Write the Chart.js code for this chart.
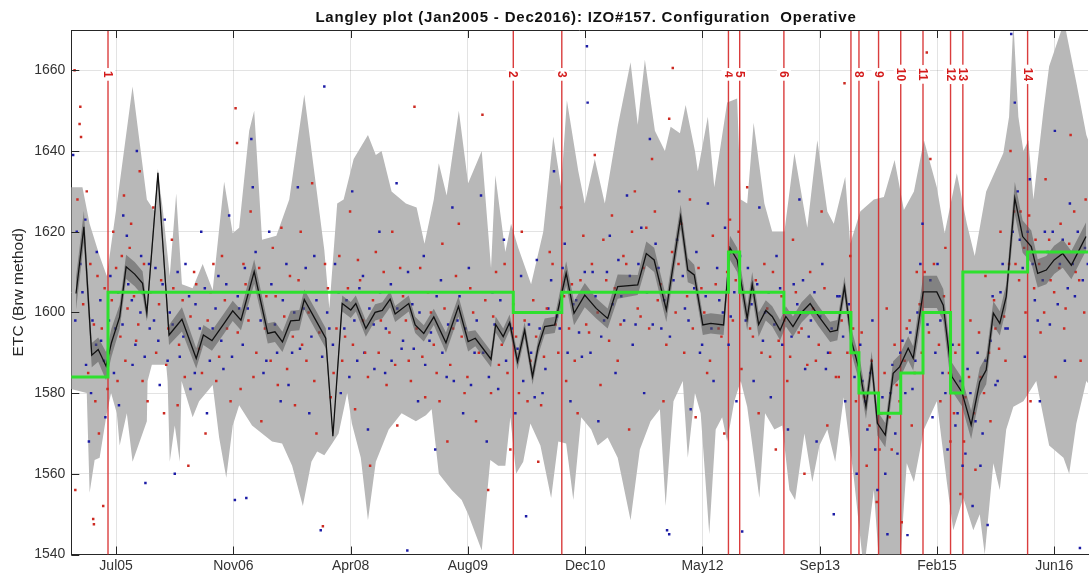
<!DOCTYPE html>
<html>
<head>
<meta charset="utf-8">
<title>Langley plot IZO#157</title>
<script src="https://cdn.jsdelivr.net/npm/chart.js@4.4.1/dist/chart.umd.min.js"></script>
<style>
  html, body { margin: 0; padding: 0; background: #fff; }
  canvas { display: block; }
</style>
</head>
<body>
<canvas id="langley" width="1092" height="574"></canvas>
<script>
// x unit = months since 1 Jan 2005
const FONT = '"Liberation Sans", Arial, sans-serif';

const xTickPos = [6, 22.39, 38.78, 55.17, 71.56, 87.95, 104.34, 120.73, 137.12];
const xTickLabels = ['Jul05', 'Nov06', 'Apr08', 'Aug09', 'Dec10', 'May12', 'Sep13', 'Feb15', 'Jun16'];
const yTicks = [1540, 1560, 1580, 1600, 1620, 1640, 1660];

// calibration events (red lines)
const eventM = [4.87, 61.51, 68.29, 91.58, 93.15, 99.33, 108.70, 109.82, 112.56, 115.66, 118.77, 122.62, 124.34, 133.39];
const eventLabels = ['1', '2', '3', '4', '5', '6', '', '8', '9', '10', '11', '12', '13', '14'];
const labelLevel = 1659;

// operative ETC constant (green steps)
const stepM = [-0.3, 4.87, 61.51, 68.29, 91.58, 93.15, 99.33, 108.70, 109.82, 112.56, 115.66, 118.77, 122.62, 124.34, 133.39, 142];
const stepV = [1584, 1605, 1600, 1605, 1615, 1605, 1600, 1590, 1580, 1575, 1585, 1600, 1580, 1610, 1615, 1615];

// monthly mean ETC (black) and its error
const meanM = [0.4,1.5,2.6,3.5,4.6,5.35,6.5,7.4,8.6,9.7,
  10.3,11.85,13.4,15.2,17.2,18.2,19.4,21.1,22.3,23.45,
  25.3,27.2,28.2,29.25,30.4,31.6,32.3,33.9,35.3,36.3,
  37.6,38.8,39.5,40.9,42.2,43.2,44.3,45.0,46.9,47.8,
  49.0,50.4,52.1,53.85,55.2,56.2,58.4,59.05,60.1,61.0,
  62.1,63.1,64.2,65.0,65.9,67.3,68.9,70.0,71.5,73.1,
  74.7,76.1,78.9,80.1,81.2,82.9,84.9,85.9,86.8,88.0,
  89.1,90.9,91.8,92.8,93.5,94.2,94.9,95.8,96.8,97.7,
  98.8,99.6,100.6,101.8,103.0,104.2,105.8,106.8,107.8,108.8,
  110.0,110.8,111.6,112.4,113.5,114.6,115.5,116.7,117.4,118.8,
  120.7,121.6,122.8,124.2,125.5,126.7,127.6,128.6,129.5,130.4,
  131.6,132.7,133.9,134.8,136.0,137.1,138.3,139.5,140.6,141.55];
const meanV = [1604.7,1621.2,1589.4,1590.8,1586.7,1592.5,1598.9,1611.3,1609.5,1607.2,
  1599.8,1634.6,1594.4,1598.3,1588.6,1594.4,1593.0,1597.3,1600.4,1598.1,
  1610.1,1594.8,1595.2,1592.7,1597.9,1598.1,1603.2,1598.1,1593.6,1569.3,
  1602.2,1600.6,1602.2,1596.0,1600.0,1600.5,1603.3,1599.6,1602.2,1596.9,
  1594.8,1598.9,1592.5,1601.5,1592.8,1593.6,1588.4,1597.0,1594.0,1597.5,
  1587.8,1595.6,1584.1,1591.5,1596.5,1596.9,1609.7,1599.8,1604.3,1601.0,
  1598.5,1606.4,1606.8,1614.6,1613.0,1600.6,1623.7,1610.5,1609.3,1596.9,
  1597.3,1596.9,1616.0,1613.0,1606.0,1598.5,1607.0,1597.0,1600.5,1599.0,
  1595.6,1599.0,1596.5,1600.0,1602.2,1599.0,1595.2,1595.6,1606.4,1592.7,
  1584.9,1576.6,1587.4,1572.5,1569.6,1584.9,1586.5,1591.1,1588.6,1605.1,
  1605.1,1601.8,1584.1,1580.3,1572.1,1582.8,1585.7,1599.8,1597.3,1603.9,
  1628.3,1618.8,1616.3,1609.7,1610.5,1613.0,1614.6,1611.7,1615.5,1618.8];
const meanErr = [4,4,3,3,3.5,3.5,3,3,3,3,
  2,1,2.5,3,2.5,2.5,2.5,2.5,2.5,2.5,
  3,2.5,2.5,2.5,2.5,2.5,2.5,2.5,2.5,0.5,
  2,2,2,2,2,2,2,2,2,2,
  2,2,2.5,2.5,2.5,2,2,2,2,2,
  2,2,2,2,2,2,3,3,3,2.5,
  2.5,3,2.5,3,3,3,3,3,2.5,2.5,
  2.5,2.5,3,3,3,3,3,3,2.5,2.5,
  2.5,2.5,2.5,2.5,2.5,2.5,2.5,2.5,2.5,3,
  3,3,3,3,3,3,3,3,3,4,
  4,4,3.5,3.5,3.5,3.5,3.5,3,3,3,
  4,4,4,3.5,3.5,3.5,3.5,3.5,3.5,3.5];

// daily spread envelope (light gray)
const envUpper = [[-0.3,1631],[1.3,1631],[2.3,1622],[3.7,1614],[4.7,1609],[6.2,1628],[8.3,1656],[10.3,1628],[11.4,1625],[11.8,1635],
  [12.5,1626],[13.5,1609],[14.4,1629.5],[15.2,1607],[16.7,1606],[18.1,1612],[19.5,1605.5],[21.1,1632.4],[22.3,1619.6],[23.2,1621],
  [24.6,1645],[25.3,1650],[26.4,1618],[28.4,1619],[30.2,1628],[32.3,1654],[33.9,1632],[35.1,1615.5],[35.8,1601],[36.9,1627],
  [37.8,1628],[39.2,1638],[41.2,1644],[42.3,1639],[43.1,1640],[44.5,1630],[46.5,1627],[48.0,1626],[49.1,1617],[50.4,1628],
  [51.1,1637],[52.2,1629],[53.9,1650],[55.2,1632],[57.1,1640],[58.4,1611],[59.0,1634],[60.4,1615],[61.2,1622],[62.2,1616],
  [64.0,1607],[65.7,1620],[67.1,1643.6],[68.2,1631],[69.0,1652.6],[70.6,1635],[71.5,1627],[72.9,1638],[74.3,1627],[76.1,1646],
  [77.9,1662],[78.9,1646.5],[79.9,1662.6],[81.3,1645],[82.7,1640],[83.5,1646],[84.8,1644.4],[85.6,1651.4],[86.9,1640],[87.3,1635],
  [88.7,1648.5],[89.6,1631],[91.4,1652],[92.8,1653],[93.3,1628],[94.2,1627],[95.1,1647],[96.6,1627],[97.7,1620],[99.4,1620],
  [100.8,1639.5],[102.6,1621],[104.0,1642.7],[105.4,1625],[106.3,1622],[107.9,1633.6],[108.6,1617],[110.0,1625],[111.9,1628],[113.3,1628.6],
  [114.8,1637.8],[116.1,1625.4],[117.5,1630],[118.9,1642.7],[120.7,1631],[121.8,1619.6],[123.5,1634.5],[124.9,1622],[126.0,1614],[127.6,1630],
  [130.0,1639.5],[130.8,1648.5],[131.4,1672],[132.1,1648.5],[132.8,1640],[133.5,1642.7],[134.2,1628],[135.6,1650],[136.4,1661],[138.5,1672],
  [140.2,1657],[141.6,1644],[142.0,1642]];
const envLower = [[-0.3,1581],[1.9,1580],[2.3,1555.3],[3.0,1563.4],[3.7,1564],[4.7,1575],[5.3,1580],[6.1,1575],[6.5,1567],[7.5,1575],
  [8.3,1563],[9.3,1568],[10.3,1573],[10.4,1583],[11.0,1587],[13.0,1587],[13.2,1583],[13.5,1563],[14.2,1572],[14.9,1563],
  [15.15,1583],[16.7,1574],[17.6,1578],[19.5,1582],[20.4,1569],[21.4,1559],[22.3,1572],[23.2,1577],[25.0,1572],[26.4,1570],
  [27.8,1568],[29.2,1567.5],[30.6,1562],[32.1,1552],[33.3,1563],[34.1,1565.5],[35.1,1564.6],[36.2,1567.5],[37.1,1570],[38.3,1580],
  [38.95,1572.5],[40.2,1564],[41.2,1548.5],[42.3,1563],[44.1,1571],[45.9,1575],[47.9,1573],[49.3,1574.5],[50.1,1576],[51.1,1560],
  [52.9,1556],[54.3,1553.5],[55.2,1550],[57.1,1541],[58.3,1563.4],[59.4,1562],[60.4,1562],[61.1,1574],[61.9,1560],[62.9,1563],
  [63.9,1572.5],[65.3,1567],[66.8,1554],[67.8,1568],[68.9,1567.5],[69.9,1553.5],[71.0,1574],[72.4,1571],[73.3,1567],[74.7,1569],
  [76.1,1564],[77.9,1548.5],[79.2,1566],[80.7,1573],[82.0,1576],[82.8,1552],[83.9,1578],[85.2,1583],[85.9,1564],[86.9,1580],
  [87.7,1575],[88.9,1545],[89.8,1571],[90.7,1574],[91.4,1568],[92.4,1578],[93.3,1583],[94.2,1576.6],[95.9,1554],[96.7,1575],
  [98.0,1571],[99.1,1572],[100.1,1556],[100.9,1553.5],[102.2,1570],[103.3,1558],[104.3,1567],[105.4,1571],[106.5,1563],[107.7,1579],
  [109.1,1559],[110.5,1536],[111.9,1556],[112.7,1536],[115.5,1536],[116.5,1562.6],[117.5,1558],[118.9,1571],[120.7,1578],[122.1,1558],
  [123.0,1546],[124.4,1554],[125.8,1546],[126.7,1550],[127.4,1540],[128.6,1562.6],[129.5,1556],[130.4,1571],[131.4,1576.6],[132.8,1578],
  [134.6,1583],[136.4,1567],[138.4,1564],[139.2,1560],[140.2,1572.5],[141.6,1583],[142.0,1582]];

// individual Langley ETC values, red and blue
const redPts = [[0.2,1660],[0.9,1646.7],[1.1,1643.5],[1.0,1651],[0.3,1556],[1.9,1630],[2.4,1612],[2.9,1597],[3.1,1578],[3.6,1570],
  [2.8,1548.8],[2.9,1547.5],[4.2,1552],[4.4,1606],[5.0,1590],[5.6,1620],[6.2,1583],[6.8,1614],[7.1,1629],[7.6,1601],
  [8.1,1622],[8.8,1593],[9.3,1635],[9.9,1612],[10.4,1578],[11.2,1626],[12.3,1608],[13.0,1587],[13.8,1618],[14.6,1577],
  [15.3,1603],[16.1,1562],[16.9,1610],[17.6,1591],[18.5,1570],[19.2,1605],[20.0,1583],[20.8,1614],[21.5,1596],[22.7,1650.6],
  [22.9,1642],[23.4,1581],[24.1,1607],[24.8,1625],[25.6,1590],[26.3,1573],[27.0,1604],[27.9,1616],[28.6,1582],[29.5,1599],
  [30.3,1609],[31.0,1577],[31.8,1620],[32.6,1588],[33.4,1632],[34.0,1570],[34.9,1547],[35.6,1606],[36.4,1585],[37.2,1614],
  [38.0,1594],[38.7,1625],[39.4,1576],[40.1,1608],[40.8,1590],[41.5,1562],[42.3,1615],[43.0,1598],[43.8,1582],[44.6,1620],
  [45.3,1572],[46.1,1604],[46.9,1588],[47.7,1651],[48.5,1611],[49.2,1579],[50.0,1600],[50.8,1585],[51.6,1617],[52.3,1568],
  [53.1,1596],[53.9,1622],[54.7,1580],[55.5,1606],[56.3,1573],[57.2,1649],[58.0,1556],[58.7,1599],[59.5,1587],[60.3,1612],
  [61.1,1566],[61.9,1594],[62.7,1620],[63.5,1578],[64.3,1603],[65.0,1563],[65.8,1589],[66.6,1615],[67.4,1597],[68.2,1626],
  [68.9,1583],[69.7,1607],[70.5,1575],[71.3,1619],[72.1,1595],[72.9,1639],[73.7,1582],[74.5,1608],[75.3,1624],[76.1,1588],
  [76.9,1614],[77.7,1571],[78.5,1630],[79.3,1599],[80.1,1621],[80.9,1638],[81.7,1603],[82.5,1578],[83.3,1648],[83.8,1660.6],
  [84.6,1612],[85.4,1590],[86.2,1628],[87.0,1574],[87.8,1606],[88.6,1585],[89.4,1619],[90.2,1596],[91.0,1570],[91.8,1623],
  [92.6,1608],[93.4,1586],[94.2,1631],[95.0,1594],[95.8,1575],[96.6,1612],[97.4,1589],[98.2,1566],[99.0,1604],[99.8,1583],
  [100.6,1618],[101.4,1595],[102.2,1560],[103.0,1610],[103.8,1588],[104.6,1625],[105.4,1572],[106.2,1600],[107.0,1584],[107.8,1656.8],
  [108.6,1614],[109.4,1578],[110.2,1595],[110.9,1562],[111.6,1588],[112.3,1553],[113.0,1575],[113.7,1601],[114.4,1566],[115.1,1582],
  [115.8,1548],[116.5,1596],[117.2,1572],[117.9,1610],[118.6,1590],[119.3,1664.4],[119.8,1638],[120.5,1600],[121.2,1578],[121.9,1616],
  [122.6,1568],[123.3,1590],[124.0,1555],[124.7,1579],[125.4,1598],[126.1,1561],[126.8,1584],[127.5,1609],[128.2,1573],[128.9,1596],
  [129.6,1620],[130.3,1588],[131.0,1640],[131.7,1612],[132.4,1625],[133.1,1600],[133.8,1578],[134.5,1618],[135.2,1595],[135.9,1633],
  [136.6,1608],[137.3,1584],[138.0,1622],[138.7,1601],[139.4,1644],[140.1,1610],[140.8,1588],[141.5,1628],
  [0.6,1628],[1.4,1602],[2.1,1585],[3.4,1609],[4.0,1596],[4.8,1581],[5.4,1603],[6.0,1611],[6.6,1594],[7.3,1588],
  [7.9,1616],[8.5,1604],[9.1,1597],[9.7,1583],[10.8,1605],[11.6,1590],[12.0,1602],[12.7,1575],[13.3,1596],[14.0,1606],
  [14.8,1592],[15.6,1584],[16.4,1599],[17.2,1607],[18.0,1585],[18.8,1598],[19.6,1612],[20.4,1589],[21.2,1603],[22.0,1578],
  [23.0,1595],[23.8,1612],[24.5,1598],[25.2,1584],[26.0,1611],[26.8,1596],[27.6,1588],[28.3,1604],[29.1,1621],[29.9,1586],
  [30.7,1594],[31.5,1608],[32.0,1592],[32.9,1600],[33.7,1583],[34.4,1595],[35.2,1612],[36.0,1579],[36.8,1596],[37.6,1588],
  [38.4,1606],[39.1,1592],[39.8,1613],[40.5,1598],[41.2,1584],[41.9,1603],[42.7,1590],[43.4,1610],[44.2,1595],[45.0,1587],
  [45.7,1611],[46.5,1598],[47.2,1583],[48.0,1596],[48.8,1589],[49.6,1605],[50.4,1592],[51.2,1578],[51.9,1601],[52.7,1587],
  [53.5,1609],[54.3,1594],[55.1,1584],[55.9,1600],[56.7,1590],[57.6,1603],[58.4,1580],[59.1,1610],[59.9,1592],[60.7,1585],
  [61.5,1602],[62.3,1580],[63.1,1598],[63.9,1588],[64.7,1594],[65.4,1577],[66.2,1601],[67.0,1612],[67.8,1590],[68.6,1604],
  [69.3,1596],[70.1,1588],[70.9,1608],[71.7,1597],[72.5,1612],[73.3,1600],[74.1,1618],[74.9,1593],[75.7,1606],[76.5,1597],
  [77.3,1612],[78.1,1620],[78.9,1601],[79.7,1611],[80.5,1596],[81.3,1625],[82.1,1607],[82.9,1592],[83.7,1615],[84.2,1600],
  [85.0,1622],[85.8,1604],[86.6,1596],[87.4,1611],[88.2,1600],[89.0,1588],[89.8,1607],[90.6,1594],[91.4,1610],[92.2,1598],
  [93.0,1620],[93.8,1605],[94.6,1596],[95.4,1608],[96.2,1590],[97.0,1601],[97.8,1610],[98.6,1593],[99.4,1598],[100.2,1589],
  [101.0,1605],[101.8,1596],[102.6,1587],[103.4,1601],[104.2,1592],[105.0,1606],[105.8,1590],[106.6,1584],[107.4,1598],[108.2,1590],
  [109.0,1596],[109.8,1587],[110.6,1579],[111.3,1572],[112.0,1580],[112.7,1566],[113.4,1585],[114.1,1574],[114.8,1592],[115.5,1578],
  [116.2,1588],[116.9,1598],[117.6,1585],[118.3,1602],[119.0,1610],[119.6,1595],[120.3,1612],[121.0,1592],[121.7,1604],[122.4,1585],
  [123.1,1575],[123.8,1592],[124.5,1568],[125.2,1584],[125.9,1575],[126.6,1595],[127.3,1580],[128.0,1590],[128.7,1603],[129.4,1591],
  [130.1,1599],[130.8,1612],[131.5,1625],[132.2,1608],[132.9,1616],[133.6,1624],[134.3,1606],[135.0,1612],[135.7,1600],[136.4,1618],
  [137.1,1605],[137.8,1611],[138.5,1596],[139.2,1617],[139.9,1625],[140.6,1608],[141.3,1600]];
const bluePts = [[0.0,1639],[0.5,1620],[1.3,1605],[1.8,1587],[2.2,1568],[2.7,1598],[3.3,1615],[3.9,1593],[4.5,1574],[5.2,1609],
  [5.9,1596],[6.4,1577],[7.0,1624],[7.7,1607],[8.3,1587],[8.9,1640],[9.5,1614],[10.1,1557.7],[10.7,1596],[11.5,1611],
  [12.1,1582],[12.8,1623],[13.5,1600],[14.2,1560],[14.9,1589],[15.7,1612],[16.4,1581],[17.1,1602],[17.9,1620],[18.7,1575],
  [19.5,1596],[20.3,1609],[21.0,1586],[21.8,1624],[22.6,1553.5],[23.2,1601],[24.0,1611],[24.2,1554],[24.9,1643],[25.1,1631],
  [25.8,1605],[26.6,1585],[27.4,1620],[28.2,1597],[29.0,1578],[29.8,1612],[30.6,1590],[31.4,1631],[32.2,1601],[33.0,1575],
  [33.7,1614],[34.6,1546],[35.1,1656],[35.8,1596],[36.6,1612],[37.4,1580],[38.2,1603],[39.0,1630],[39.7,1588],[40.5,1609],
  [41.2,1571],[42.0,1597],[42.8,1620],[43.6,1585],[44.4,1607],[45.2,1632],[45.9,1591],[46.7,1541],[47.4,1602],[48.2,1578],
  [49.0,1614],[49.8,1593],[50.6,1566],[51.4,1608],[52.2,1584],[53.0,1626],[53.7,1598],[54.5,1575],[55.3,1611],[56.1,1590],
  [57.0,1629],[57.8,1568],[58.6,1605],[59.4,1581],[60.2,1618],[61.0,1597],[61.8,1575],[62.6,1609],[63.3,1549.5],[64.0,1590],
  [64.8,1613],[65.6,1580],[66.4,1601],[67.2,1635],[68.0,1596],[68.7,1617],[69.5,1578],[70.3,1603],[71.1,1589],[71.8,1666],
  [71.9,1652],[72.6,1610],[73.4,1573],[74.2,1598],[75.0,1619],[75.8,1585],[76.6,1604],[77.4,1629],[78.2,1592],[79.0,1612],
  [79.8,1580],[80.6,1643],[81.4,1617],[82.2,1596],[83.0,1546],[83.3,1545],[83.9,1608],[84.7,1630],[85.5,1601],[86.3,1576],
  [87.1,1615],[87.9,1592],[88.7,1627],[89.5,1583],[90.3,1603],[91.1,1621],[91.9,1599],[92.7,1578],[93.5,1545.7],[94.3,1611],
  [95.1,1583],[95.9,1626],[96.7,1600],[97.5,1579],[98.3,1614],[99.1,1592],[99.9,1571],[100.7,1607],[101.5,1628],[102.3,1586],
  [103.1,1598],[103.9,1568],[104.7,1612],[105.5,1590],[106.3,1550],[107.1,1604],[107.9,1578],[108.7,1596],[109.5,1560],[110.3,1583],
  [111.0,1571],[111.7,1598],[112.4,1556],[113.1,1579],[113.8,1545],[114.5,1587],[115.2,1565],[115.9,1593],[116.6,1544.8],[117.3,1581],
  [118.0,1600],[118.7,1622],[119.4,1597],[120.1,1574],[120.8,1612],[121.5,1585],[122.2,1566],[122.9,1592],[123.6,1575],[124.3,1562],
  [125.0,1586],[125.7,1552],[126.4,1590],[127.1,1570],[127.8,1547.3],[128.5,1604],[129.2,1583],[129.9,1612],[130.6,1596],[131.1,1669],
  [131.6,1652],[132.3,1618],[133.0,1589],[133.7,1633],[134.4,1603],[135.1,1578],[135.8,1620],[136.5,1597],[137.2,1645],[137.9,1612],
  [138.6,1588],[139.3,1627],[140.0,1604],[140.7,1541.6],[141.4,1616],
  [0.3,1598],[1.0,1612],[1.7,1623],[2.5,1580],[3.2,1592],[3.8,1603],[4.3,1588],[5.0,1598],[5.7,1585],[6.3,1605],
  [6.9,1597],[7.5,1619],[8.2,1603],[8.7,1592],[9.4,1600],[10.0,1589],[10.6,1612],[11.3,1598],[11.9,1593],[12.5,1607],
  [13.2,1588],[13.9,1597],[14.6,1610],[15.4,1594],[16.2,1604],[17.0,1585],[17.7,1596],[18.4,1606],[19.1,1588],[19.9,1601],
  [20.7,1593],[21.4,1607],[22.2,1589],[23.0,1604],[23.7,1592],[24.4,1601],[25.5,1615],[26.2,1598],[27.0,1588],[27.7,1607],
  [28.5,1590],[29.3,1603],[30.1,1582],[30.9,1600],[31.7,1591],[32.5,1611],[33.3,1594],[34.0,1603],[34.8,1589],[35.5,1600],
  [36.3,1592],[37.1,1605],[37.9,1596],[38.6,1584],[39.3,1598],[40.0,1606],[40.7,1590],[41.4,1601],[42.1,1586],[42.9,1605],
  [43.7,1596],[44.5,1588],[45.3,1601],[46.1,1593],[46.8,1610],[47.6,1591],[48.4,1600],[49.2,1587],[50.0,1595],[50.8,1604],
  [51.6,1590],[52.4,1597],[53.2,1583],[54.0,1604],[54.8,1596],[55.6,1582],[56.4,1598],[57.3,1590],[58.1,1584],[58.9,1597],
  [59.7,1603],[60.5,1588],[61.3,1596],[62.1,1591],[62.9,1583],[63.7,1597],[64.5,1579],[65.2,1596],[66.0,1586],[66.8,1608],
  [67.6,1599],[68.4,1611],[69.1,1590],[69.9,1602],[70.7,1595],[71.5,1610],[72.3,1590],[73.0,1604],[73.8,1594],[74.6,1610],
  [75.4,1602],[76.2,1613],[77.0,1598],[77.8,1609],[78.6,1597],[79.4,1621],[80.2,1605],[81.0,1597],[81.8,1611],[82.6,1603],
  [83.4,1594],[84.4,1618],[85.2,1609],[86.0,1598],[86.8,1606],[87.6,1590],[88.4,1604],[89.2,1596],[90.0,1611],[90.8,1600],
  [91.6,1592],[92.4,1605],[93.2,1614],[94.0,1598],[94.8,1602],[95.6,1607],[96.4,1593],[97.2,1605],[98.0,1597],[98.8,1606],
  [99.6,1600],[100.4,1594],[101.2,1602],[102.0,1608],[102.8,1594],[103.6,1605],[104.4,1599],[105.2,1586],[106.0,1596],[106.8,1604],
  [107.6,1594],[108.4,1602],[109.2,1584],[110.0,1592],[110.7,1578],[111.4,1585],[112.1,1566],[112.8,1575],[113.5,1560],[114.2,1580],
  [114.9,1570],[115.6,1590],[116.3,1580],[117.0,1595],[117.7,1588],[118.4,1612],[119.1,1600],[119.8,1608],[120.5,1590],[121.2,1598],
  [121.9,1580],[122.6,1588],[123.3,1572],[124.0,1583],[124.7,1565],[125.4,1580],[126.1,1573],[126.8,1562],[127.5,1588],[128.2,1593],
  [128.9,1582],[129.6,1605],[130.3,1596],[131.3,1620],[132.0,1630],[132.7,1611],[133.4,1620],[134.1,1612],[134.8,1598],[135.5,1608],
  [136.2,1615],[136.9,1620],[137.6,1602],[138.3,1618],[139.0,1606],[139.7,1612],[140.4,1620],[141.1,1608],[141.8,1612]];

// helpers to turn the arrays into chart points
const toXY = pts => pts.map(p => ({ x: p[0], y: p[1] }));
const meanPts = meanM.map((m, i) => ({ x: m, y: meanV[i] }));
const errHi = meanM.map((m, i) => ({ x: m, y: meanV[i] + meanErr[i] }));
const errLo = meanM.map((m, i) => ({ x: m, y: meanV[i] - meanErr[i] }));
const stepPts = stepM.map((m, i) => ({ x: m, y: stepV[i] }));
const eventPts = [];
eventM.forEach(m => {
    eventPts.push({ x: m, y: 1530 }, { x: m, y: 1680 }, { x: m, y: null });
});

// title, box, inner ticks and the event numbers
const langleyDecor = {
    id: 'langleyDecor',
    afterDatasetsDraw(chart) {
        const { ctx, chartArea: a, scales: { x, y } } = chart;
        ctx.save();
        ctx.strokeStyle = '#262626';
        ctx.lineWidth = 1;
        ctx.beginPath();
        ctx.moveTo(a.left, a.top + 0.5);
        ctx.lineTo(a.right, a.top + 0.5);
        xTickPos.forEach(v => {
            const px = Math.round(x.getPixelForValue(v)) + 0.5;
            ctx.moveTo(px, a.top);
            ctx.lineTo(px, a.top + 8);
            ctx.moveTo(px, a.bottom);
            ctx.lineTo(px, a.bottom - 8);
        });
        yTicks.forEach(v => {
            const py = Math.round(y.getPixelForValue(v)) + 0.5;
            ctx.moveTo(a.left, py);
            ctx.lineTo(a.left + 8, py);
        });
        ctx.stroke();

        ctx.font = 'bold 12px ' + FONT;
        ctx.textAlign = 'center';
        ctx.textBaseline = 'middle';
        eventM.forEach((m, i) => {
            const lab = eventLabels[i];
            if (!lab) return;
            const w = ctx.measureText(lab).width;
            ctx.save();
            ctx.translate(x.getPixelForValue(m), y.getPixelForValue(labelLevel));
            ctx.rotate(Math.PI / 2);
            ctx.fillStyle = '#ffffff';
            ctx.fillRect(-w / 2 - 3, -7, w + 6, 14);
            ctx.fillStyle = '#d41c1c';
            ctx.fillText(lab, 0, 0.5);
            ctx.restore();
        });

        // title
        ctx.fillStyle = '#111';
        ctx.font = 'bold 15px ' + FONT;
        ctx.letterSpacing = '0.8px';
        ctx.fillText('Langley plot (Jan2005 - Dec2016): IZO#157. Configuration  Operative', 586, 18);
        ctx.restore();
    }
};

const ctx = document.getElementById('langley').getContext('2d');
new Chart(ctx, {
    type: 'line',
    data: {
        datasets: [
            { data: toXY(envUpper), fill: '+1', backgroundColor: '#b8b8b8', borderWidth: 0, pointRadius: 0, order: 10 },
            { data: toXY(envLower), fill: false, borderWidth: 0, pointRadius: 0, order: 10 },
            { data: eventPts, borderColor: 'rgba(214,40,40,0.9)', borderWidth: 1.4, pointRadius: 0, spanGaps: false, fill: false, order: 9 },
            { data: toXY(redPts), showLine: false, pointStyle: 'rect', pointRadius: 1.75, borderWidth: 0, backgroundColor: '#cc2a22', order: 8 },
            { data: toXY(bluePts), showLine: false, pointStyle: 'rect', pointRadius: 1.75, borderWidth: 0, backgroundColor: '#1c1ca6', order: 8 },
            { data: errHi, fill: '+1', backgroundColor: 'rgba(85,85,85,0.55)', borderWidth: 0, pointRadius: 0, order: 7 },
            { data: errLo, fill: false, borderWidth: 0, pointRadius: 0, order: 7 },
            { data: meanPts, borderColor: '#111111', borderWidth: 1.3, pointRadius: 0, fill: false, order: 6 },
            { data: stepPts, borderColor: '#2ee02e', borderWidth: 3, pointRadius: 0, stepped: 'before', fill: false, order: 5 }
        ]
    },
    options: {
        responsive: false,
        animation: false,
        devicePixelRatio: 1,
        events: [],
        layout: { padding: { top: 30, right: 0, bottom: 0, left: 0 } },
        plugins: {
            legend: { display: false },
            tooltip: { enabled: false },
            title: { display: false }
        },
        scales: {
            x: {
                type: 'linear',
                min: -0.26,
                max: 141.83,
                afterBuildTicks: s => { s.ticks = xTickPos.map(v => ({ value: v })); },
                afterFit: s => { s.height = 19.5; s.paddingLeft = 0; s.paddingRight = 0; },
                ticks: {
                    autoSkip: false, maxRotation: 0, minRotation: 0, padding: 3,
                    color: '#333', font: { size: 14, family: FONT },
                    callback: (v, i) => xTickLabels[i]
                },
                grid: { color: 'rgba(0,0,0,0.11)', drawTicks: false },
                border: { color: '#262626' }
            },
            y: {
                type: 'linear',
                min: 1540,
                max: 1670,
                afterBuildTicks: s => { s.ticks = yTicks.map(v => ({ value: v })); },
                afterFit: s => { s.width = 71.3; s.paddingTop = 0; s.paddingBottom = 0; },
                ticks: { padding: 6, color: '#333', font: { size: 14, family: FONT }, callback: v => String(v) },
                title: {
                    display: true, text: 'ETC (Brw method)', color: '#262626',
                    font: { size: 15.5, family: FONT }, padding: { top: 9, bottom: 0 }
                },
                grid: { color: 'rgba(0,0,0,0.11)', drawTicks: false },
                border: { color: '#262626' }
            }
        }
    },
    plugins: [langleyDecor]
});
</script>
</body>
</html>
